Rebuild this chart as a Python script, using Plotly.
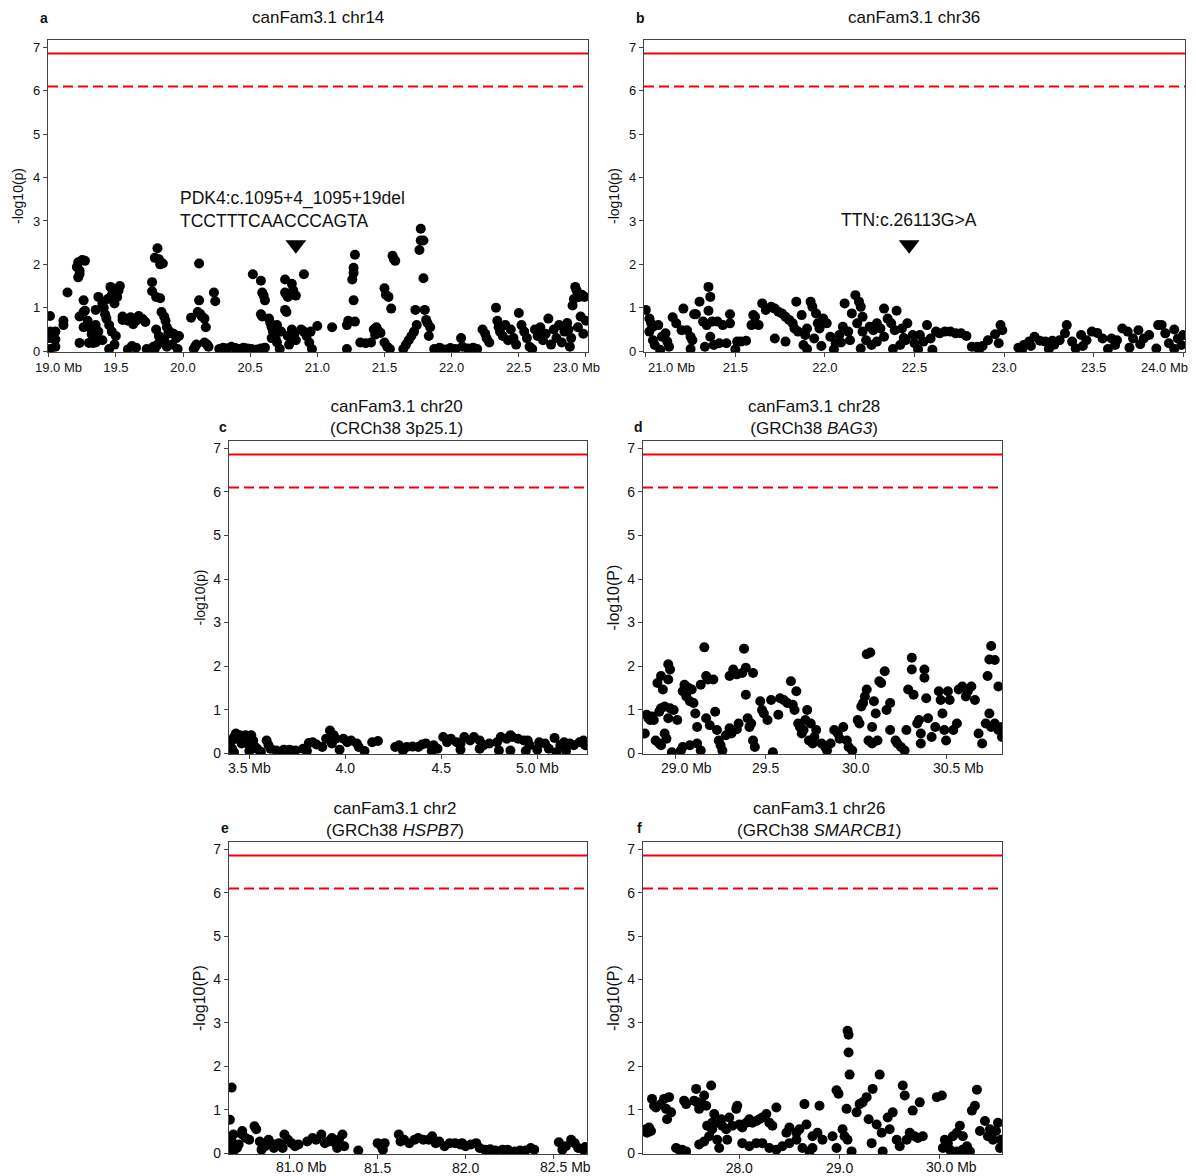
import plotly.graph_objects as go

OFF = 8                     # page body margin of the browser
W, H = 1196 - OFF, 1176 - OFF
FONT = "Arial, 'Liberation Sans', sans-serif"

# ---------------- data (position in Mb, -log10 p) ----------------
snps_a = [
    (19.01, 0.81), (19.01, 0.45), (19.01, 0.30), (19.01, 0.05), (19.05, 0.45), (19.05, 0.27), (19.05, 0.10),
    (19.11, 0.60), (19.11, 0.70), (19.14, 1.35), (19.21, 1.94), (19.22, 2.05), (19.23, 1.78), (19.23, 1.86),
    (19.25, 2.10), (19.27, 2.08), (19.22, 1.70), (19.23, 0.80), (19.23, 0.19), (19.26, 1.17), (19.26, 0.90),
    (19.26, 0.55), (19.27, 0.93), (19.29, 0.70), (19.31, 0.54), (19.32, 0.39), (19.33, 0.19), (19.30, 0.19),
    (19.35, 0.95), (19.35, 0.60), (19.35, 0.35), (19.35, 0.20), (19.37, 1.25), (19.37, 0.45), (19.40, 1.10),
    (19.41, 1.00), (19.42, 0.85), (19.43, 0.75), (19.44, 1.20), (19.45, 0.60), (19.40, 0.25), (19.46, 1.48),
    (19.47, 1.30), (19.48, 1.20), (19.50, 1.42), (19.53, 1.50), (19.52, 1.40), (19.51, 1.25), (19.49, 1.10),
    (19.47, 0.45), (19.50, 0.35), (19.49, 0.15), (19.45, 0.05), (19.55, 0.80), (19.55, 0.72), (19.59, 0.70),
    (19.61, 0.78), (19.63, 0.74), (19.65, 0.70), (19.67, 0.81), (19.70, 0.74), (19.72, 0.67), (19.63, 0.62),
    (19.59, 0.04), (19.62, 0.12), (19.65, 0.08), (19.73, 0.05), (19.78, 0.10), (19.77, 1.59), (19.77, 1.38),
    (19.79, 2.15), (19.81, 2.37), (19.82, 2.12), (19.83, 2.00), (19.80, 1.25), (19.83, 1.22), (19.84, 0.90),
    (19.80, 0.50), (19.82, 0.35), (19.81, 0.15), (19.79, 0.05), (19.85, 2.02), (19.86, 0.80), (19.87, 0.70),
    (19.88, 0.55), (19.89, 0.40), (19.86, 0.25), (19.88, 0.10), (19.90, 0.45), (19.93, 0.40), (19.95, 0.30),
    (19.97, 0.35), (19.92, 0.15), (19.96, 0.05), (20.06, 0.77), (20.08, 0.05), (20.09, 0.10), (20.10, 0.15),
    (20.12, 2.02), (20.12, 1.17), (20.11, 0.90), (20.13, 0.85), (20.14, 0.80), (20.16, 0.75), (20.17, 0.55),
    (20.16, 0.20), (20.18, 0.15), (20.19, 0.10), (20.23, 1.35), (20.24, 1.15), (20.27, 0.05), (20.30, 0.08),
    (20.33, 0.06), (20.36, 0.10), (20.39, 0.07), (20.42, 0.05), (20.45, 0.08), (20.48, 0.06), (20.51, 0.05),
    (20.55, 0.04), (20.58, 0.06), (20.61, 0.08), (20.52, 1.77), (20.58, 1.62), (20.59, 1.35), (20.60, 1.28),
    (20.61, 1.17), (20.58, 0.85), (20.59, 0.80), (20.64, 0.75), (20.65, 0.65), (20.66, 0.55), (20.67, 0.45),
    (20.68, 0.38), (20.69, 0.28), (20.70, 0.20), (20.72, 0.05), (20.66, 0.30), (20.70, 0.60), (20.73, 0.45),
    (20.76, 1.65), (20.76, 1.35), (20.77, 1.30), (20.78, 1.25), (20.76, 0.95), (20.77, 0.90), (20.78, 0.35),
    (20.79, 0.15), (20.81, 1.55), (20.82, 1.40), (20.84, 1.28), (20.81, 0.50), (20.83, 0.40), (20.84, 0.25),
    (20.90, 1.77), (20.88, 0.50), (20.90, 0.45), (20.92, 0.35), (20.94, 0.20), (20.96, 0.05), (20.95, 0.45),
    (21.00, 0.58), (21.11, 0.55), (21.22, 0.60), (21.23, 0.70), (21.26, 1.65), (21.27, 1.80), (21.27, 1.92),
    (21.28, 2.22), (21.27, 1.17), (21.28, 0.68), (21.22, 0.05), (21.32, 0.20), (21.36, 0.18), (21.40, 0.20),
    (21.42, 0.50), (21.44, 0.55), (21.46, 0.45), (21.43, 0.38), (21.47, 0.42), (21.50, 1.45), (21.51, 1.30),
    (21.53, 1.25), (21.55, 0.98), (21.50, 0.20), (21.52, 0.10), (21.54, 0.05), (21.56, 2.20), (21.57, 2.12),
    (21.58, 2.08), (21.64, 0.05), (21.66, 0.15), (21.68, 0.25), (21.70, 0.35), (21.72, 0.45), (21.74, 0.60),
    (21.73, 0.95), (21.77, 2.82), (21.77, 2.55), (21.79, 2.55), (21.76, 2.33), (21.79, 1.68), (21.80, 0.95),
    (21.81, 0.72), (21.82, 0.65), (21.84, 0.55), (21.83, 0.35), (21.87, 0.05), (21.91, 0.08), (21.95, 0.04),
    (21.99, 0.07), (22.03, 0.05), (22.07, 0.30), (22.08, 0.10), (22.12, 0.06), (22.16, 0.08), (22.19, 0.05),
    (22.23, 0.50), (22.25, 0.40), (22.26, 0.30), (22.28, 0.20), (22.33, 1.00), (22.34, 0.70), (22.35, 0.55),
    (22.36, 0.45), (22.38, 0.35), (22.40, 0.60), (22.42, 0.25), (22.44, 0.50), (22.46, 0.30), (22.48, 0.15),
    (22.50, 0.88), (22.52, 0.60), (22.54, 0.45), (22.56, 0.30), (22.58, 0.10), (22.60, 0.05), (22.62, 0.50),
    (22.64, 0.35), (22.66, 0.55), (22.68, 0.25), (22.70, 0.40), (22.72, 0.75), (22.74, 0.15), (22.76, 0.50),
    (22.78, 0.30), (22.80, 0.60), (22.82, 0.20), (22.84, 0.45), (22.86, 0.65), (22.88, 0.10), (22.90, 1.05),
    (22.91, 1.20), (22.92, 1.48), (22.93, 1.40), (22.95, 1.25), (22.97, 1.30), (22.99, 1.25), (22.94, 0.55),
    (22.96, 0.80), (22.98, 0.40), (23.00, 0.70), (22.89, 0.30), (22.87, 0.50),
]

snps_b = [
    (21.00, 0.95), (21.02, 0.75), (21.03, 0.64), (21.04, 0.56), (21.07, 0.60), (21.02, 0.45), (21.04, 0.25),
    (21.05, 0.14), (21.09, 0.33), (21.11, 0.41), (21.12, 0.22), (21.13, 0.10), (21.15, 0.78), (21.17, 0.64),
    (21.21, 0.98), (21.20, 0.48), (21.23, 0.48), (21.25, 0.33), (21.26, 0.25), (21.27, 0.85), (21.28, 0.85),
    (21.30, 1.14), (21.35, 1.48), (21.36, 1.25), (21.35, 0.93), (21.32, 0.68), (21.34, 0.60), (21.37, 0.68),
    (21.40, 0.68), (21.43, 0.60), (21.36, 0.33), (21.38, 0.14), (21.41, 0.18), (21.33, 0.10), (21.45, 0.18),
    (21.47, 0.85), (21.47, 0.64), (21.51, 0.22), (21.53, 0.22), (21.56, 0.24), (21.59, 0.60), (21.61, 0.79),
    (21.63, 0.60), (21.65, 1.10), (21.60, 0.83), (21.67, 0.95), (21.70, 1.02), (21.72, 0.98), (21.74, 0.91),
    (21.76, 0.87), (21.78, 0.79), (21.80, 0.72), (21.82, 0.64), (21.83, 0.52), (21.85, 0.45), (21.72, 0.29),
    (21.78, 0.22), (21.84, 1.14), (21.87, 0.83), (21.88, 0.14), (21.89, 0.37), (21.90, 0.52), (21.92, 1.14),
    (21.93, 1.02), (21.95, 0.87), (21.96, 0.64), (21.97, 0.52), (21.99, 0.75), (22.01, 0.64), (21.94, 0.29),
    (22.03, 0.33), (22.06, 0.18), (22.08, 0.37), (22.10, 0.56), (22.11, 1.10), (22.13, 0.45), (22.14, 0.25),
    (22.17, 1.29), (22.19, 1.14), (22.20, 1.02), (22.21, 0.79), (22.15, 0.87), (22.18, 0.64), (22.21, 0.45),
    (22.23, 0.25), (22.25, 0.56), (22.27, 0.48), (22.29, 0.64), (22.31, 0.52), (22.33, 0.98), (22.35, 0.75),
    (22.33, 0.33), (22.29, 0.22), (22.40, 0.93), (22.37, 0.64), (22.39, 0.48), (22.43, 0.52), (22.46, 0.64),
    (22.45, 0.25), (22.42, 0.14), (22.49, 0.37), (22.53, 0.37), (22.57, 0.60), (22.55, 0.22), (22.59, 0.29),
    (22.62, 0.45), (22.64, 0.41), (22.67, 0.45), (22.70, 0.45), (22.73, 0.41), (22.76, 0.41), (22.79, 0.35),
    (22.82, 0.10), (22.85, 0.10), (22.88, 0.12), (22.91, 0.25), (22.95, 0.39), (22.98, 0.60), (22.99, 0.48),
    (22.97, 0.18), (23.08, 0.08), (23.11, 0.14), (23.14, 0.22), (23.17, 0.33), (23.20, 0.24), (23.23, 0.22),
    (23.27, 0.24), (23.31, 0.25), (23.34, 0.41), (23.35, 0.60), (23.38, 0.22), (23.43, 0.37), (23.46, 0.25),
    (23.49, 0.45), (23.52, 0.42), (23.55, 0.29), (23.60, 0.29), (23.63, 0.25), (23.66, 0.52), (23.69, 0.45),
    (23.72, 0.29), (23.75, 0.48), (23.78, 0.29), (23.81, 0.37), (23.86, 0.60), (23.88, 0.60), (23.90, 0.41),
    (23.95, 0.50), (23.97, 0.29), (24.00, 0.37), (23.99, 0.14),
    (21.08, 0.03), (21.25, 0.05), (21.50, 0.04), (21.90, 0.05), (22.05, 0.04), (22.20, 0.06), (22.38, 0.05),
    (22.52, 0.04), (22.60, 0.03), (22.86, 0.03), (23.10, 0.03), (23.25, 0.05), (23.40, 0.06), (23.58, 0.05),
    (23.70, 0.08), (23.85, 0.06), (23.95, 0.05), (23.15, 0.12), (23.28, 0.15), (23.44, 0.12), (23.62, 0.14),
    (23.76, 0.16), (23.92, 0.18), (21.98, 0.12), (22.09, 0.20), (22.26, 0.14), (22.44, 0.30), (22.50, 0.18),
]

snps_c = [
    (3.41, 0.10), (3.41, 0.29), (3.42, 0.37), (3.43, 0.45), (3.44, 0.33), (3.45, 0.41), (3.46, 0.22),
    (3.47, 0.37), (3.48, 0.41), (3.49, 0.22), (3.50, 0.33), (3.51, 0.41), (3.52, 0.29), (3.53, 0.14),
    (3.54, 0.10), (3.59, 0.29), (3.60, 0.18), (3.61, 0.10), (3.64, 0.06), (3.68, 0.08), (3.71, 0.08),
    (3.74, 0.06), (3.78, 0.10), (3.81, 0.23), (3.83, 0.25), (3.85, 0.20), (3.88, 0.14), (3.90, 0.33),
    (3.92, 0.52), (3.94, 0.41), (3.95, 0.33), (3.93, 0.22), (3.99, 0.33), (4.01, 0.25), (4.03, 0.29),
    (4.06, 0.22), (4.07, 0.14), (4.14, 0.25), (4.17, 0.28), (4.26, 0.14), (4.28, 0.18), (4.32, 0.14),
    (4.35, 0.15), (4.38, 0.14), (4.40, 0.20), (4.42, 0.22), (4.46, 0.18), (4.48, 0.10), (4.51, 0.37),
    (4.53, 0.25), (4.55, 0.33), (4.58, 0.25), (4.60, 0.22), (4.62, 0.37), (4.65, 0.29), (4.67, 0.37),
    (4.70, 0.29), (4.72, 0.18), (4.75, 0.22), (4.79, 0.25), (4.81, 0.37), (4.84, 0.33), (4.86, 0.41),
    (4.87, 0.37), (4.90, 0.33), (4.93, 0.29), (4.95, 0.29), (4.96, 0.18), (5.01, 0.25), (5.04, 0.22),
    (5.06, 0.10), (5.09, 0.35), (5.12, 0.18), (5.14, 0.25), (5.17, 0.22), (5.19, 0.18), (5.22, 0.25),
    (5.24, 0.29), (5.25, 0.18), (4.86, 0.06), (4.94, 0.05), (5.10, 0.02), (3.42, 0.02), (3.50, 0.05),
    (3.56, 0.03), (3.66, 0.03), (3.80, 0.05), (3.97, 0.08), (4.10, 0.05), (4.30, 0.06), (4.45, 0.05),
    (4.60, 0.08), (4.70, 0.10), (4.80, 0.06), (5.00, 0.08), (5.15, 0.05),
]

snps_d = [
    (28.83, 0.45), (28.84, 0.88), (28.85, 0.80), (28.86, 0.76), (28.88, 0.76), (28.87, 0.84), (28.90, 1.61),
    (28.92, 1.77), (28.93, 1.46), (28.91, 0.95), (28.92, 1.03), (28.94, 1.07), (28.96, 2.04), (28.97, 1.92),
    (28.96, 1.69), (28.97, 1.03), (28.99, 0.99), (28.96, 0.80), (29.01, 0.76), (28.89, 0.29), (28.91, 0.22),
    (28.94, 0.45), (28.95, 0.33), (28.98, 0.02), (28.92, 0.18), (29.03, 0.06), (29.04, 0.14), (29.08, 0.18),
    (29.12, 0.22), (29.14, 0.06), (29.04, 1.42), (29.05, 1.57), (29.06, 1.30), (29.07, 1.50), (29.08, 1.19),
    (29.09, 1.46), (29.10, 1.15), (29.11, 0.91), (29.12, 0.60), (29.14, 1.57), (29.16, 2.43), (29.17, 0.80),
    (29.17, 1.77), (29.18, 1.69), (29.19, 0.64), (29.21, 1.69), (29.22, 0.95), (29.23, 0.53), (29.24, 0.29),
    (29.25, 0.18), (29.26, 0.06), (29.30, 0.57), (29.30, 1.77), (29.32, 1.92), (29.34, 1.81), (29.35, 0.68),
    (29.37, 1.84), (29.38, 2.40), (29.39, 1.96), (29.39, 1.34), (29.40, 0.80), (29.41, 0.60), (29.42, 0.68),
    (29.43, 0.29), (29.43, 1.84), (29.44, 0.14), (29.47, 1.19), (29.48, 0.99), (29.49, 0.91), (29.51, 0.76),
    (29.53, 1.22), (29.54, 0.02), (29.57, 0.88), (29.58, 1.26), (29.60, 1.22), (29.62, 1.15), (29.64, 1.65),
    (29.65, 1.11), (29.66, 0.99), (29.67, 1.42), (29.68, 0.68), (29.69, 0.60), (29.70, 0.45), (29.71, 0.53),
    (29.72, 0.76), (29.73, 0.99), (29.74, 0.29), (29.75, 0.68), (29.76, 0.22), (29.77, 0.37), (29.78, 0.53),
    (29.81, 0.22), (29.83, 0.14), (29.84, 0.06), (29.86, 0.22), (29.88, 0.53), (29.90, 0.45), (29.91, 0.33),
    (29.93, 0.60), (29.95, 0.29), (29.96, 0.14), (29.98, 0.06), (30.01, 0.76), (30.02, 0.68), (30.03, 1.07),
    (30.04, 1.15), (30.05, 1.30), (30.06, 1.46), (30.06, 2.27), (30.08, 2.31), (30.07, 0.29), (30.09, 0.22),
    (30.09, 0.60), (30.10, 1.19), (30.11, 0.91), (30.12, 0.29), (30.13, 1.65), (30.14, 1.61), (30.16, 1.88),
    (30.17, 0.99), (30.19, 1.15), (30.19, 0.53), (30.22, 0.29), (30.23, 0.22), (30.25, 0.14), (30.27, 0.06),
    (30.28, 0.53), (30.29, 1.46), (30.31, 2.19), (30.31, 1.92), (30.32, 1.34), (30.34, 0.68), (30.35, 0.76),
    (30.36, 0.45), (30.36, 0.22), (30.38, 1.92), (30.38, 1.73), (30.39, 1.26), (30.40, 0.80), (30.42, 0.37),
    (30.44, 0.60), (30.46, 1.42), (30.47, 1.22), (30.48, 0.91), (30.49, 0.53), (30.50, 0.29), (30.51, 1.42),
    (30.52, 1.22), (30.54, 0.53), (30.56, 0.68), (30.57, 1.46), (30.59, 1.53), (30.61, 1.30), (30.62, 1.42),
    (30.64, 1.53), (30.66, 1.22), (30.68, 0.45), (30.70, 0.22), (30.72, 0.68), (30.74, 0.91), (30.73, 1.77),
    (30.74, 2.15), (30.75, 2.46), (30.77, 2.14), (30.79, 1.53), (30.75, 0.60), (30.77, 0.68), (30.79, 0.53),
    (30.81, 0.60), (30.81, 0.37), (29.28, 0.41), (29.31, 0.45), (29.34, 0.55),
]

snps_e = [
    (80.66, 0.77), (80.67, 0.27), (80.67, 0.16), (80.68, 0.04), (80.67, 1.51), (80.68, 0.43), (80.70, 0.12),
    (80.71, 0.20), (80.73, 0.51), (80.73, 0.43), (80.75, 0.35), (80.77, 0.31), (80.80, 0.62), (80.81, 0.55),
    (80.83, 0.27), (80.84, 0.08), (80.86, 0.16), (80.88, 0.31), (80.89, 0.23), (80.91, 0.12), (80.92, 0.20),
    (80.94, 0.23), (80.96, 0.12), (80.97, 0.43), (80.99, 0.31), (81.01, 0.23), (81.03, 0.16), (81.05, 0.20),
    (81.10, 0.27), (81.13, 0.35), (81.15, 0.31), (81.18, 0.43), (81.20, 0.23), (81.22, 0.27), (81.24, 0.35),
    (81.26, 0.23), (81.27, 0.12), (81.28, 0.31), (81.30, 0.43), (81.31, 0.16), (81.39, 0.06), (81.50, 0.23),
    (81.52, 0.16), (81.54, 0.23), (81.53, 0.08), (81.62, 0.43), (81.63, 0.27), (81.65, 0.31), (81.68, 0.23),
    (81.71, 0.31), (81.73, 0.35), (81.76, 0.31), (81.79, 0.31), (81.81, 0.39), (81.83, 0.23), (81.85, 0.27),
    (81.88, 0.16), (81.91, 0.23), (81.94, 0.23), (81.97, 0.20), (81.98, 0.23), (82.00, 0.16), (82.03, 0.20),
    (82.06, 0.23), (82.08, 0.12), (82.11, 0.08), (82.14, 0.09), (82.17, 0.06), (82.21, 0.08), (82.24, 0.08),
    (82.28, 0.04), (82.31, 0.06), (82.34, 0.06), (82.37, 0.12), (82.39, 0.08), (82.53, 0.25), (82.55, 0.08),
    (82.57, 0.16), (82.60, 0.31), (82.62, 0.23), (82.64, 0.12), (82.67, 0.08), (82.68, 0.14),
]

snps_f = [
    (27.07, 0.55), (27.08, 0.47), (27.10, 0.59), (27.12, 0.51), (27.13, 1.25), (27.15, 1.09), (27.17, 1.05),
    (27.22, 1.13), (27.25, 1.25), (27.27, 1.02), (27.28, 0.78), (27.30, 1.29), (27.32, 0.94), (27.37, 0.12),
    (27.40, 0.08), (27.43, 0.08), (27.47, 0.04), (27.45, 1.21), (27.47, 1.13), (27.55, 1.21), (27.57, 1.48),
    (27.58, 1.17), (27.60, 1.02), (27.63, 1.13), (27.65, 1.33), (27.67, 1.09), (27.68, 0.63), (27.72, 1.56),
    (27.73, 0.70), (27.60, 0.20), (27.65, 0.27), (27.70, 0.39), (27.73, 0.55), (27.75, 0.90), (27.77, 0.70),
    (27.78, 0.31), (27.80, 0.12), (27.82, 0.78), (27.83, 0.63), (27.87, 0.55), (27.88, 0.31), (27.90, 0.82),
    (27.93, 0.63), (27.97, 1.02), (27.98, 1.09), (28.00, 0.66), (28.03, 0.59), (28.07, 0.70), (28.10, 0.78),
    (28.13, 0.70), (28.17, 0.74), (28.20, 0.78), (28.23, 0.82), (28.27, 0.90), (28.30, 0.70), (28.33, 0.63),
    (28.37, 1.05), (28.03, 0.23), (28.10, 0.16), (28.17, 0.23), (28.23, 0.23), (28.30, 0.12), (28.37, 0.08),
    (28.43, 0.16), (28.50, 0.23), (28.57, 0.31), (28.63, 0.12), (28.70, 0.04), (28.73, 0.12), (28.47, 0.47),
    (28.50, 0.59), (28.57, 0.47), (28.60, 0.55), (28.65, 1.13), (28.67, 0.66), (28.73, 0.39), (28.78, 0.47),
    (28.80, 1.09), (28.83, 0.31), (28.93, 0.39), (28.97, 0.12), (28.97, 1.45), (28.99, 1.37), (29.07, 1.02),
    (29.03, 0.55), (29.05, 0.39), (29.08, 2.82), (29.09, 2.73), (29.09, 2.32), (29.10, 1.81), (29.08, 0.31),
    (29.12, 0.04), (29.17, 0.94), (29.20, 1.13), (29.23, 1.17), (29.27, 1.29), (29.29, 0.78), (29.32, 0.23),
    (29.33, 1.48), (29.37, 0.66), (29.40, 1.81), (29.42, 0.47), (29.43, 0.04), (29.48, 0.82), (29.50, 0.55),
    (29.53, 0.94), (29.57, 0.31), (29.60, 0.16), (29.63, 1.56), (29.65, 1.33), (29.67, 0.31), (29.70, 0.47),
    (29.73, 0.98), (29.75, 0.39), (29.78, 0.35), (29.80, 1.17), (29.83, 0.39), (29.97, 1.29), (30.02, 1.33),
    (30.05, 0.31), (30.08, 0.23), (30.13, 0.39), (30.17, 0.47), (30.20, 0.63), (30.23, 0.39), (30.27, 0.16),
    (30.30, 0.04), (30.32, 0.98), (30.35, 1.09), (30.37, 1.46), (30.40, 0.51), (30.45, 0.74), (30.48, 0.39),
    (30.50, 0.55), (30.53, 0.31), (30.56, 0.51), (30.58, 0.70), (30.60, 0.12), (30.61, 0.31), (30.03, 0.12),
    (30.10, 0.08), (30.17, 0.04), (30.23, 0.08),
]

# significance thresholds (-log10 p)
threshold_solid = 6.86
threshold_dashed = 6.10

# x ranges (Mb) and ticks
range_a, ticks_a, labels_a = [18.995, 23.015], [19.0, 19.5, 20.0, 20.5, 21.0, 21.5, 22.0, 22.5, 23.0], ["19.0 Mb", "19.5", "20.0", "20.5", "21.0", "21.5", "22.0", "22.5", "23.0 Mb"]
range_b, ticks_b, labels_b = [20.99, 24.01], [21.0, 21.5, 22.0, 22.5, 23.0, 23.5, 24.0], ["21.0 Mb", "21.5", "22.0", "22.5", "23.0", "23.5", "24.0 Mb"]
range_c, ticks_c, labels_c = [3.394, 5.259], [3.5, 4.0, 4.5, 5.0], ["3.5 Mb", "4.0", "4.5", "5.0 Mb"]
range_d, ticks_d, labels_d = [28.82, 30.81], [29.0, 29.5, 30.0, 30.5], ["29.0 Mb", "29.5", "30.0", "30.5 Mb"]
range_e, ticks_e, labels_e = [80.655, 82.69], [81.0, 81.5, 82.0, 82.5], ["81.0 Mb", "81.5", "82.0", "82.5 Mb"]
range_f, ticks_f, labels_f = [27.04, 30.62], [28.0, 29.0, 30.0], ["28.0", "29.0", "30.0 Mb"]
y_ticks = [0, 1, 2, 3, 4, 5, 6, 7]
y_range = [-0.02, 7.17]

# variant markers
variant_a_x, variant_a_y = [20.84], [2.45]
variant_b_x, variant_b_y = [22.47], [2.45]
variant_a_label = "PDK4:c.1095+4_1095+19del<br>TCCTTTCAACCCAGTA"
variant_b_label = "TTN:c.26113G>A"

titles = {
    "a": "canFam3.1 chr14",
    "b": "canFam3.1 chr36",
    "c": "canFam3.1 chr20<br>(CRCh38 3p25.1)",
    "d": "canFam3.1 chr28<br>(GRCh38 <i>BAG3</i>)",
    "e": "canFam3.1 chr2<br>(GRCh38 <i>HSPB7</i>)",
    "f": "canFam3.1 chr26<br>(GRCh38 <i>SMARCB1</i>)",
}
ylabels = {"a": "-log10(p)", "b": "-log10(p)", "c": "-log10(p)", "d": "-log10(P)", "e": "-log10(P)", "f": "-log10(P)"}

# ---------------- layout geometry (page pixels) ----------------
def px_x(x):
    return (x - OFF) / W

def px_y(y):
    return 1 - (y - OFF) / H

panel_boxes = {  # left, right, top, bottom in page px
    "a": (48, 588, 40, 352),
    "b": (644, 1185, 40, 352),
    "c": (229, 587, 441, 754),
    "d": (643, 1002, 441, 754),
    "e": (229, 587, 842, 1154),
    "f": (643, 1002, 842, 1154),
}
# horizontal offset (px) of the end labels carrying "Mb", and the vertical drop of the x labels
end_label_shift = {"a": (10, -9), "b": (26, -19), "c": (0, 0), "d": (11, 12), "e": (12, 12), "f": (0, 12)}
label_drop = {"a": 15, "b": 15, "c": 14, "d": 14, "e": 13, "f": 13}
label_standoff = {"a": -1, "b": -1, "c": -3, "d": -3, "e": -3, "f": -3}

panels = [
    ("a", snps_a, range_a, ticks_a, labels_a, 13, 14),
    ("b", snps_b, range_b, ticks_b, labels_b, 13, 14),
    ("c", snps_c, range_c, ticks_c, labels_c, 14, 14),
    ("d", snps_d, range_d, ticks_d, labels_d, 14, 16),
    ("e", snps_e, range_e, ticks_e, labels_e, 14, 16),
    ("f", snps_f, range_f, ticks_f, labels_f, 14, 16),
]

fig = go.Figure()
layout = dict(
    width=W, height=H, margin=dict(l=0, r=0, t=0, b=0, pad=0), autosize=False,
    paper_bgcolor="white", plot_bgcolor="white", showlegend=False,
    font=dict(family=FONT, color="#111"),
)
annotations = []
shapes = []

for i, (key, snps, xr, tv, tt, tfs, yfs) in enumerate(panels, start=1):
    sfx = "" if i == 1 else str(i)
    xa, ya = "x" + sfx, "y" + sfx
    l, r, t, b = panel_boxes[key]
    texts = list(tt)
    # end labels with the unit are drawn as separate texts so they can sit slightly inward
    for idx, shift in ((0, end_label_shift[key][0]), (len(texts) - 1, end_label_shift[key][1])):
        if texts[idx].endswith("Mb"):
            annotations.append(dict(text=texts[idx], xref=xa, yref=ya + " domain", x=tv[idx], y=0,
                                    xanchor="center", yanchor="middle", xshift=shift, yshift=-label_drop[key],
                                    showarrow=False, font=dict(size=tfs, family=FONT, color="#111")))
            texts[idx] = ""
    fig.add_trace(go.Scatter(
        x=[p[0] for p in snps], y=[p[1] for p in snps], mode="markers",
        marker=dict(color="black", size=10, line=dict(width=0)),
        xaxis=xa, yaxis=ya, hoverinfo="x+y",
    ))
    axstyle = dict(showline=True, linecolor="#444", linewidth=1.2, mirror=True, ticks="outside",
                   ticklen=4, tickcolor="#444", showgrid=False, zeroline=False, automargin=False,
                   ticklabeloverflow="allow")
    layout["xaxis" + sfx] = dict(domain=[px_x(l), px_x(r)], anchor=ya, range=xr, tickvals=tv,
                                 ticktext=texts, ticklabelstandoff=label_standoff[key],
                                 tickfont=dict(size=tfs, family=FONT, color="#111"), **axstyle)
    layout["yaxis" + sfx] = dict(domain=[px_y(b), px_y(t)], anchor=xa, range=y_range, tickvals=y_ticks,
                                 tickfont=dict(size=tfs, family=FONT, color="#111"), **axstyle)
    for yv, dash in ((threshold_solid, "solid"), (threshold_dashed, "10px,5px")):
        shapes.append(dict(type="line", xref=xa + " domain", yref=ya, x0=0, x1=1, y0=yv, y1=yv,
                           line=dict(color="#f00000", width=2, dash=dash)))
    annotations.append(dict(text=ylabels[key], textangle=-90, xref="paper", yref="paper",
                            x=px_x(l - 30), y=(px_y(b) + px_y(t)) / 2, showarrow=False,
                            xanchor="center", yanchor="middle", font=dict(size=yfs, family=FONT, color="#111")))

# titles and panel letters
title_pos = {"a": (318, 18), "b": (914, 18), "c": (396, 417), "d": (814, 417), "e": (395, 819), "f": (819, 819)}
letter_pos = {"a": (44, 18), "b": (640, 18), "c": (223, 427), "d": (638, 427), "e": (225, 828), "f": (639, 828)}
for key in "abcdef":
    tx, ty = title_pos[key]
    annotations.append(dict(text=titles[key], xref="paper", yref="paper", x=px_x(tx), y=px_y(ty),
                            showarrow=False, xanchor="center", yanchor="middle",
                            font=dict(size=17, family=FONT, color="#111")))
    lx, ly = letter_pos[key]
    annotations.append(dict(text="<b>%s</b>" % key, xref="paper", yref="paper", x=px_x(lx), y=px_y(ly),
                            showarrow=False, xanchor="center", yanchor="middle",
                            font=dict(size=14, family=FONT, color="#111")))

# variant triangles and labels
fig.add_trace(go.Scatter(x=variant_a_x, y=variant_a_y, mode="markers", xaxis="x", yaxis="y",
                         marker=dict(symbol="triangle-down", size=18, color="black")))
fig.add_trace(go.Scatter(x=variant_b_x, y=variant_b_y, mode="markers", xaxis="x2", yaxis="y2",
                         marker=dict(symbol="triangle-down", size=18, color="black")))
annotations.append(dict(text=variant_a_label, xref="x", yref="y", x=19.96, y=3.27, showarrow=False,
                        xanchor="left", yanchor="middle", align="left",
                        font=dict(size=17.5, family=FONT, color="#111")))
annotations.append(dict(text=variant_b_label, xref="x2", yref="y2", x=variant_b_x[0], y=3.03, showarrow=False,
                        xanchor="center", yanchor="middle", font=dict(size=17.5, family=FONT, color="#111")))

layout["annotations"] = annotations
layout["shapes"] = shapes
fig.update_layout(**layout)
fig.write_html("out.html")
